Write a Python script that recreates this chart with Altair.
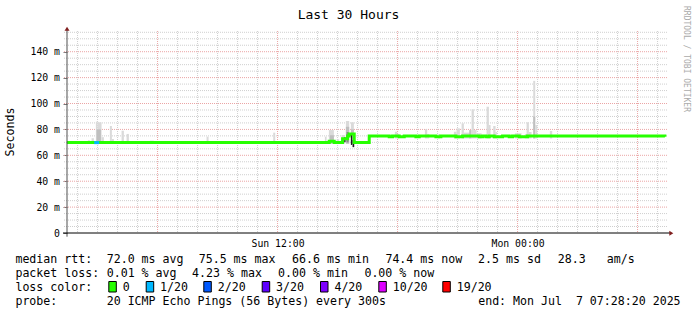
import altair as alt
import pandas as pd

# ------------------------------------------------------------------ data
START = "2025-07-06 01:28:20"
END = "2025-07-07 07:28:20"
TITLE = "Last 30 Hours"

# median RTT (ms) - step changes
med_time = ["2025-07-06 01:28", "2025-07-06 14:35", "2025-07-06 14:50", "2025-07-06 15:15",
            "2025-07-06 15:30", "2025-07-06 15:35", "2025-07-06 15:50", "2025-07-06 16:35",
            "2025-07-06 17:35", "2025-07-06 17:45", "2025-07-06 18:05", "2025-07-06 18:20",
            "2025-07-06 18:55", "2025-07-06 19:05", "2025-07-06 19:55", "2025-07-06 20:10",
            "2025-07-06 20:55", "2025-07-06 21:15", "2025-07-06 22:05", "2025-07-06 22:15",
            "2025-07-06 22:25", "2025-07-06 22:35", "2025-07-06 22:50", "2025-07-06 23:15",
            "2025-07-06 23:35", "2025-07-06 23:45", "2025-07-07 00:05", "2025-07-07 00:30",
            "2025-07-07 07:22"]
med_value = [69.8, 70.8, 69.8, 72.8, 75.0, 76.5, 69.8, 75.0,
             74.3, 75.0, 74.3, 75.0, 74.3, 75.0, 74.3, 75.0, 74.3, 75.0, 74.3, 75.0,
             74.3, 75.0, 74.3, 75.0, 74.3, 75.0, 74.3, 75.0, 74.4]

# periods with packet loss (median drawn in loss colour)
loss_start = ["2025-07-06 02:50"]
loss_end = ["2025-07-06 03:05"]
loss_median = [69.8]
loss_level = ["1/20"]

# smoke (spread of the 20 pings)
smoke_start = ["2025-07-06 02:19", "2025-07-06 02:31", "2025-07-06 02:42", "2025-07-06 02:55",
               "2025-07-06 03:00", "2025-07-06 02:57", "2025-07-06 03:12", "2025-07-06 03:37",
               "2025-07-06 03:43", "2025-07-06 04:12", "2025-07-06 04:27", "2025-07-06 05:37",
               "2025-07-06 07:27", "2025-07-06 08:27", "2025-07-06 09:37", "2025-07-06 10:52",
               "2025-07-06 11:47", "2025-07-06 12:16", "2025-07-06 13:22", "2025-07-06 14:22",
               "2025-07-06 14:34", "2025-07-06 14:37", "2025-07-06 14:57", "2025-07-06 15:12",
               "2025-07-06 15:25", "2025-07-06 15:25", "2025-07-06 15:27", "2025-07-06 15:40",
               "2025-07-06 15:40", "2025-07-06 15:49", "2025-07-06 17:52", "2025-07-06 17:59",
               "2025-07-06 19:22", "2025-07-06 19:29", "2025-07-06 20:02", "2025-07-06 20:49",
               "2025-07-06 20:57", "2025-07-06 21:12", "2025-07-06 21:19", "2025-07-06 21:35",
               "2025-07-06 21:42", "2025-07-06 21:49", "2025-07-06 21:57", "2025-07-06 22:27",
               "2025-07-06 22:34", "2025-07-06 22:47", "2025-07-06 22:54", "2025-07-06 23:52",
               "2025-07-07 00:22", "2025-07-07 00:27", "2025-07-07 00:34", "2025-07-07 00:47",
               "2025-07-07 00:47", "2025-07-07 00:53", "2025-07-07 01:37",
               "2025-07-06 15:20", "2025-07-06 15:35", "2025-07-06 15:40", "2025-07-06 15:45",
               "2025-07-06 16:34"]
smoke_end = ["2025-07-06 02:25", "2025-07-06 02:37", "2025-07-06 02:49", "2025-07-06 03:00",
             "2025-07-06 03:12", "2025-07-06 03:10", "2025-07-06 03:19", "2025-07-06 03:43",
             "2025-07-06 03:49", "2025-07-06 04:19", "2025-07-06 04:34", "2025-07-06 05:49",
             "2025-07-06 07:33", "2025-07-06 08:33", "2025-07-06 09:49", "2025-07-06 10:57",
             "2025-07-06 11:53", "2025-07-06 12:22", "2025-07-06 13:28", "2025-07-06 14:27",
             "2025-07-06 14:49", "2025-07-06 14:49", "2025-07-06 15:05", "2025-07-06 15:22",
             "2025-07-06 15:35", "2025-07-06 15:35", "2025-07-06 15:33", "2025-07-06 15:49",
             "2025-07-06 15:49", "2025-07-06 15:55", "2025-07-06 17:59", "2025-07-06 18:05",
             "2025-07-06 19:29", "2025-07-06 19:35", "2025-07-06 20:07", "2025-07-06 20:57",
             "2025-07-06 21:07", "2025-07-06 21:19", "2025-07-06 21:37", "2025-07-06 21:42",
             "2025-07-06 21:49", "2025-07-06 21:57", "2025-07-06 22:12", "2025-07-06 22:34",
             "2025-07-06 22:39", "2025-07-06 22:54", "2025-07-06 22:58", "2025-07-07 00:12",
             "2025-07-07 00:27", "2025-07-07 00:34", "2025-07-07 00:42", "2025-07-07 00:53",
             "2025-07-07 00:53", "2025-07-07 00:59", "2025-07-07 01:44",
             "2025-07-06 15:24", "2025-07-06 15:40", "2025-07-06 15:44", "2025-07-06 15:50",
             "2025-07-06 16:37"]
smoke_low = [69, 69, 69, 69, 69, 69, 69, 69, 69, 69, 69, 69, 69, 69, 69, 69, 69, 69, 69, 69,
             69, 69, 69, 69, 69, 69, 70, 69, 69, 69, 73, 73, 73, 73, 73, 73, 73, 73, 73, 73,
             73, 73, 73, 73, 73, 73, 73, 73, 73, 73, 73, 73, 73, 73, 73,
             70.0, 75.0, 68.0, 66.3, 71.0]
smoke_high = [71.0, 71.6, 73.2, 86.0, 85.5, 80.0, 74.0, 82.6, 72.6, 79.0, 76.5, 71.3,
              71.0, 74.4, 71.0, 71.0, 77.5, 70.8, 71.0, 74.4, 79.5, 75.5, 72.4, 75.7,
              86.5, 82.0, 78.0, 85.5, 80.0, 71.8, 78.2, 76.5, 80.1, 76.5, 76.5, 78.2,
              80.8, 84.7, 77.5, 79.5, 95.5, 79.5, 77.0, 97.5, 83.4, 82.6, 78.0, 77.0,
              76.5, 85.5, 78.0, 117.5, 90.0, 83.4, 78.8,
              74.0, 77.0, 75.7, 71.8, 74.4]
smoke_level = ["light"] * 5 + ["mid"] + ["light"] * 15 + ["mid", "light", "light", "light",
               "mid", "dark", "light", "mid", "light"] + ["light"] * 9 + ["mid"] + \
              ["light"] * 11 + ["light", "mid", "light", "light"] + ["black"] * 5

y_ticks = [0, 20, 40, 60, 80, 100, 120, 140]
x_label_times = ["2025-07-06 12:00", "2025-07-07 00:00"]

rtt_stats = [72.0, 75.5, 66.6, 74.4]      # avg, max, min, now (ms)
rtt_sd = 2.5
rtt_amps = 28.3
loss_stats = [0.01, 4.23, 0.00, 0.00]     # avg, max, min, now (%)
loss_levels = ["0", "1/20", "2/20", "3/20", "4/20", "10/20", "19/20"]
probe_pings, probe_bytes, probe_step = 20, 56, 300

# ------------------------------------------------------------------ style / layout
MONO = "DejaVu Sans Mono"
LOSS_COLORS = {"0": "#26ff00", "1/20": "#00b8ff", "2/20": "#0059ff", "3/20": "#5e00ff",
               "4/20": "#7e00ff", "10/20": "#dd00ff", "19/20": "#ff0000"}
SMOKE_COLORS = {"light": "#dadada", "mid": "#bfbfbf", "dark": "#8a8a8a", "black": "#1a1a1a"}
GRID = "#cfcfcf"
MGRID = "#eba5a5"
ARROW = "#801f1f"
OX, OY = 67, 31          # page position of the plot origin
W, H = 600, 202


def ms(s):
    return int(pd.Timestamp(s, tz="UTC").value // 10**6)


xscale = alt.Scale(domain=[ms(START), ms(END)], nice=False, zero=False)
yscale = alt.Scale(domain=[0, 156], nice=False, zero=False)
one = pd.DataFrame({"k": [0]})

xaxis = alt.Axis(values=[ms(s) for s in x_label_times],
                 labelExpr="utcFormat(datum.value, '%a %H:%M')",
                 grid=False, ticks=False, tickSize=0, domain=False, title=None,
                 labelFont=MONO, labelFontSize=9.8, labelColor="black",
                 labelPadding=13, labelBaseline="alphabetic", labelFlush=False)
yaxis = alt.Axis(values=y_ticks,
                 labelExpr="datum.value == 0 ? '0\u00a0\u00a0' : datum.value + '\u00a0m'",
                 grid=False, ticks=True, tickSize=4, tickColor="#777", domain=False,
                 title=None, labelFont=MONO, labelFontSize=9.8, labelColor="black",
                 labelPadding=3.5, labelAlign="right", labelBaseline="middle")


def X(field):
    return alt.X(field, scale=xscale, axis=xaxis)


def Y(field):
    return alt.Y(field, scale=yscale, axis=yaxis)


# grid values
y_minor = [v for v in range(5, 160, 5) if v % 20]
y_major = list(range(20, 160, 20))
hours = pd.date_range("2025-07-06 02:00", "2025-07-07 07:00", freq="h")
x_minor = [ms(h) for h in hours if h.hour % 6]
x_major = [ms(h) for h in hours if h.hour % 6 == 0]

layers = []

layers.append(alt.Chart(pd.DataFrame({"v": y_minor})).mark_rule(
    color=GRID, strokeDash=[1, 1], strokeWidth=1).encode(
    y=Y("v:Q"), x=alt.value(-3), x2=alt.value(W + 1)))
layers.append(alt.Chart(pd.DataFrame({"t": x_minor})).mark_rule(
    color=GRID, strokeDash=[1, 1], strokeWidth=1).encode(
    x=X("t:Q"), y=alt.value(0), y2=alt.value(H)))
layers.append(alt.Chart(pd.DataFrame({"v": y_major})).mark_rule(
    color=MGRID, strokeDash=[1, 1], strokeWidth=1).encode(
    y=Y("v:Q"), x=alt.value(-3), x2=alt.value(W + 1)))
layers.append(alt.Chart(pd.DataFrame({"t": x_major})).mark_rule(
    color=MGRID, strokeDash=[1, 1], strokeWidth=1).encode(
    x=X("t:Q"), y=alt.value(0), y2=alt.value(H)))

smoke = pd.DataFrame({
    "t0": [ms(s) for s in smoke_start], "t1": [ms(s) for s in smoke_end],
    "lo": smoke_low, "hi": smoke_high,
    "col": [SMOKE_COLORS[l] for l in smoke_level]})
layers.append(alt.Chart(smoke).mark_rect().encode(
    x=X("t0:Q"), x2="t1:Q", y=Y("lo:Q"), y2="hi:Q",
    color=alt.Color("col:N", scale=None)))

med = pd.DataFrame({"t": [ms(s) for s in med_time], "v": med_value})
layers.append(alt.Chart(med).mark_line(
    interpolate="step-after", color=LOSS_COLORS["0"], strokeWidth=3).encode(
    x=X("t:Q"), y=Y("v:Q")))

loss = pd.DataFrame({"t0": [ms(s) for s in loss_start], "t1": [ms(s) for s in loss_end],
                     "v": loss_median, "col": [LOSS_COLORS[l] for l in loss_level]})
layers.append(alt.Chart(loss).mark_rule(strokeWidth=3).encode(
    x=X("t0:Q"), x2="t1:Q", y=Y("v:Q"), color=alt.Color("col:N", scale=None)))

# axis lines and arrows
layers.append(alt.Chart(one).mark_rule(color="#505050", strokeWidth=1).encode(
    x=alt.value(0), y=alt.value(-2), y2=alt.value(H + 3.7)))
layers.append(alt.Chart(one).mark_rule(color="#000000", strokeWidth=1).encode(
    y=alt.value(H), x=alt.value(-4), x2=alt.value(W + 3)))
layers.append(alt.Chart(one).mark_point(
    shape="M -1 1 L 1 1 L 0 -0.6 Z", size=25, filled=True, color=ARROW, opacity=1).encode(
    x=alt.value(0), y=alt.value(-2.8)))
layers.append(alt.Chart(one).mark_point(
    shape="M -1 -1 L -1 1 L 0.6 0 Z", size=25, filled=True, color=ARROW, opacity=1).encode(
    x=alt.value(W + 4.8), y=alt.value(H + 0.3)))


def txt(s, x, y, size=11.6, align="left", baseline="alphabetic", angle=0, color="black"):
    return alt.Chart(one).mark_text(
        text=s.replace(" ", "\u00a0"), font=MONO, fontSize=size, align=align,
        baseline=baseline, angle=angle, color=color).encode(
        x=alt.value(x - OX), y=alt.value(y - OY))


layers.append(txt(TITLE, 348.5, 18.5, size=13, align="center"))
layers.append(txt("RRDTOOL / TOBI OETIKER", 686, 59, size=8, align="center",
                  baseline="middle", angle=90, color="#aaaaaa"))
layers.append(txt("Seconds", 10.5, 132, size=11.6, align="center",
                  baseline="middle", angle=270))

L1, L2, L3, L4 = 262.7, 276.7, 290.7, 304.9
items1 = [("median rtt:", 16),
          (f"{rtt_stats[0]:.1f} ms avg", 107.3), (f"{rtt_stats[1]:.1f} ms max", 199.3),
          (f"{rtt_stats[2]:.1f} ms min", 292.7), (f"{rtt_stats[3]:.1f} ms now", 386),
          (f"{rtt_sd:.1f} ms sd", 478.7), (f"{rtt_amps:.1f}", 558.3), ("am/s", 607.3)]
items2 = [("packet loss:", 16),
          (f"{loss_stats[0]:.2f} % avg", 107.3), (f"{loss_stats[1]:.2f} % max", 192.7),
          (f"{loss_stats[2]:.2f} % min", 278.7), (f"{loss_stats[3]:.2f} % now", 365)]
for s, x in items1:
    layers.append(txt(s, x - 0.6, L1))
for s, x in items2:
    layers.append(txt(s, x - 0.6, L2))

layers.append(txt("loss color:", 15.4, L3))
box_x = [108.3, 145.7, 203.3, 261.7, 320, 378.3, 442.3]
for lvl, bx in zip(loss_levels, box_x):
    layers.append(alt.Chart(one).mark_rect(
        fill=LOSS_COLORS[lvl], stroke="black", strokeWidth=1).encode(
        x=alt.value(bx - OX + 0.5), x2=alt.value(bx - OX + 8.0),
        y=alt.value(281.5 - OY), y2=alt.value(292 - OY)))
    layers.append(txt(lvl, bx + 15 - 0.6, L3))

layers.append(txt("probe:", 15.4, L4))
layers.append(txt(f"{probe_pings} ICMP Echo Pings ({probe_bytes} Bytes) every {probe_step}s",
                  106.7, L4))
end_ts = pd.Timestamp(END)
layers.append(txt(f"end: {end_ts:%a %b} {end_ts.day:2d} {end_ts:%H:%M:%S %Y}",
                  680.6, L4, align="right"))

chart = alt.layer(*layers).properties(
    width=W, height=H,
    padding={"left": OX, "top": OY, "right": 697 - OX - W, "bottom": 315 - OY - H},
    autosize=alt.AutoSizeParams(type="none"),
    background="white",
).configure_view(stroke=None)

chart.save("out.html", embed_options={"renderer": "svg", "actions": False})
